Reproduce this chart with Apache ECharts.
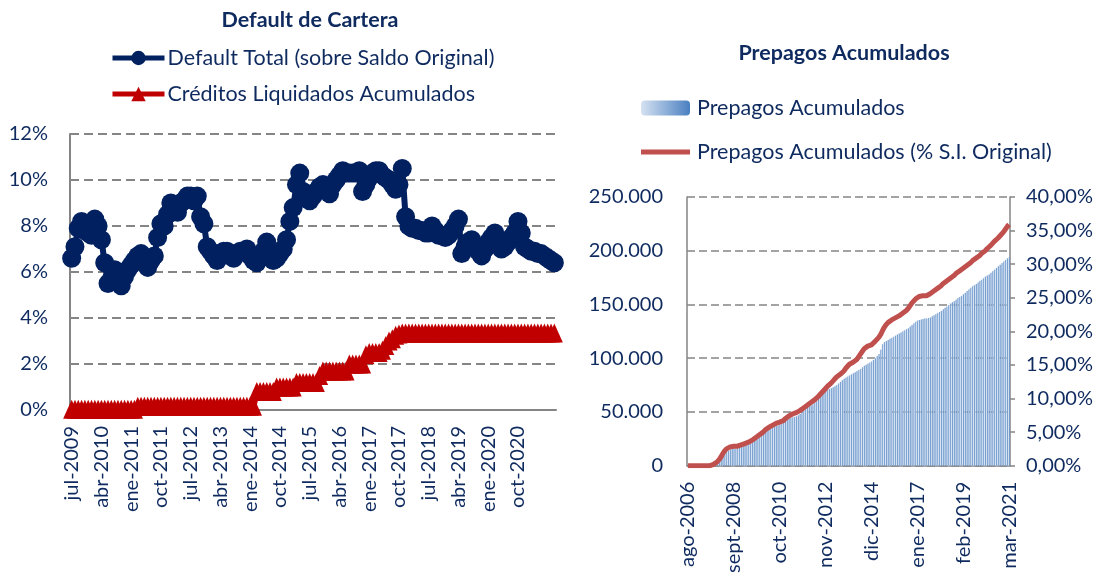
<!DOCTYPE html>
<html lang="es">
<head>
<meta charset="utf-8">
<title>Default de Cartera / Prepagos Acumulados</title>
<script src="https://cdn.jsdelivr.net/npm/echarts@6/dist/echarts.min.js"></script>
<style>
  html, body { margin: 0; padding: 0; background: #fff; }
  #chart { width: 1104px; height: 576px; }
</style>
</head>
<body>
<div id="chart"></div>
<script>
// meses en castellano, como en el eje original
const MESES = ['ene', 'feb', 'mar', 'abr', 'may', 'jun', 'jul', 'ago', 'sept', 'oct', 'nov', 'dic']

function mesesDesde(anio, mes, n) {
  const out = []
  for (let i = 0; i < n; i++) {
    const m = (mes + i) % 12
    const a = anio + Math.floor((mes + i) / 12)
    out.push(MESES[m] + '-' + a)
  }
  return out
}

// Default de Cartera: jul-2009 en adelante, mensual (%)
const fechasDefault = mesesDesde(2009, 6, 147)

const defaultTotal = [
  6.6, 7.1, 7.9, 8.2, 7.8, 7.7, 7.6, 8.3, 8.0, 7.4,
  6.4, 5.5, 5.7, 6.1, 5.7, 5.4, 5.8, 6.1, 6.3, 6.5,
  6.7, 6.8, 6.4, 6.2, 6.5, 6.7, 7.5, 8.1, 8.0, 8.5,
  9.0, 8.8, 8.6, 9.0, 9.1, 9.3, 9.3, 9.1, 9.3, 8.4,
  8.1, 7.1, 6.9, 6.7, 6.5, 6.8, 6.9, 6.9, 6.7, 6.6,
  6.8, 6.9, 6.9, 7.0, 6.7, 6.5, 6.4, 6.6, 6.9, 7.3,
  6.7, 6.5, 6.6, 6.8, 7.0, 7.4, 8.2, 8.8, 9.8, 10.3,
  9.5, 9.2, 9.1, 9.3, 9.5, 9.7, 9.8, 9.6, 9.4, 9.8,
  10.0, 10.2, 10.4, 10.3, 10.3, 10.3, 10.3, 10.4, 9.5, 9.8,
  10.1, 10.3, 10.4, 10.4, 10.2, 10.1, 10.0, 9.8, 9.6, 9.8,
  10.5, 8.4, 8.0, 7.9, 7.9, 7.8, 7.8, 7.7, 7.7, 8.0,
  7.8, 7.6, 7.6, 7.5, 7.6, 7.8, 8.0, 8.3, 6.8, 7.1,
  7.3, 7.4, 7.1, 6.9, 6.7, 7.0, 7.3, 7.5, 7.7, 7.3,
  7.0, 7.1, 7.3, 7.5, 7.7, 8.2, 7.7, 7.1, 7.0, 6.9,
  6.9, 6.8, 6.8, 6.7, 6.6, 6.5, 6.4
]

const creditosLiquidados = [
  0.03, 0.03, 0.03, 0.03, 0.03, 0.03, 0.03, 0.03, 0.03, 0.03,
  0.03, 0.03, 0.03, 0.03, 0.03, 0.03, 0.03, 0.03, 0.03, 0.03,
  0.16, 0.16, 0.16, 0.16, 0.16, 0.16, 0.16, 0.16, 0.16, 0.16,
  0.16, 0.16, 0.16, 0.16, 0.16, 0.16, 0.16, 0.16, 0.16, 0.16,
  0.16, 0.16, 0.16, 0.16, 0.16, 0.16, 0.16, 0.16, 0.16, 0.16,
  0.16, 0.16, 0.16, 0.16, 0.16, 0.16, 0.8, 0.8, 0.8, 0.8,
  0.8, 0.8, 1.0, 1.0, 1.0, 1.0, 1.0, 1.0, 1.2, 1.2,
  1.2, 1.2, 1.2, 1.2, 1.2, 1.5, 1.7, 1.7, 1.7, 1.7,
  1.7, 1.7, 1.7, 1.7, 2.0, 2.0, 2.0, 2.0, 2.0, 2.4,
  2.5, 2.5, 2.5, 2.5, 2.6, 2.8, 3.0, 3.1, 3.25, 3.3,
  3.35, 3.35, 3.35, 3.35, 3.35, 3.35, 3.35, 3.35, 3.35, 3.35,
  3.35, 3.35, 3.35, 3.35, 3.35, 3.35, 3.35, 3.35, 3.35, 3.35,
  3.35, 3.35, 3.35, 3.35, 3.35, 3.35, 3.35, 3.35, 3.35, 3.35,
  3.35, 3.35, 3.35, 3.35, 3.35, 3.35, 3.35, 3.35, 3.35, 3.35,
  3.35, 3.35, 3.35, 3.35, 3.35, 3.35, 3.35
]

// Prepagos: ago-2006 a mar-2021, mensual
const fechasPrepagos = mesesDesde(2006, 7, 176)

// en miles
const prepagosMiles = [
  0, 0, 0, 0, 0, 0, 0, 0, 0, 0, 0, 0, 0, 0,
  1, 2, 3, 5, 7, 9, 11, 13, 14, 15,
  15.5, 16, 16, 16.5, 17, 17.5, 18, 18.5, 19, 20,
  21, 22.5, 24, 25.5, 27, 28, 29, 30.5, 32, 33,
  34, 35, 36, 36.5, 37, 37.5, 38, 39, 40, 42,
  43, 44, 44.5, 45, 45.5, 46, 47, 48, 49.5, 51,
  52.5, 54, 55, 56, 57, 58.5, 60, 62, 64, 66,
  68, 69.5, 70.5, 71.5, 72, 73, 74, 75, 76.5, 78,
  79.5, 81, 82, 83, 84, 85, 86, 87, 88, 89,
  90, 91.5, 93, 94, 95, 96, 97, 98.5, 100, 102,
  104, 108, 113, 115, 116, 117, 118, 119, 120, 121,
  122, 123, 124, 125, 126, 127, 128, 129.5, 131, 132.5,
  134, 135, 135.5, 136, 136.5, 137, 137, 137.5, 138, 139,
  140, 141, 142, 143, 144, 145.5, 147, 148, 149.5, 151,
  152, 153, 154.5, 156, 157, 158, 159.5, 161, 162.5, 164,
  165.5, 167, 168, 169, 170.5, 172, 173, 174.5, 176, 177,
  178, 179.5, 181, 182.5, 184, 185.5, 187, 188.5, 190, 191.5,
  193, 194
]

// % sobre saldo inicial original
const prepagosPct = [
  0, 0, 0, 0, 0, 0, 0, 0, 0, 0, 0, 0, 0, 0,
  0.2, 0.4, 0.6, 0.9, 1.3, 1.8, 2.2, 2.5, 2.7, 2.8,
  2.9, 2.9, 2.9, 2.9, 3.0, 3.1, 3.2, 3.3, 3.4, 3.5,
  3.6, 3.8, 4.0, 4.2, 4.4, 4.6, 4.8, 5.0, 5.3, 5.5,
  5.7, 5.9, 6.0, 6.2, 6.3, 6.4, 6.5, 6.6, 6.7, 7.0,
  7.2, 7.4, 7.6, 7.7, 7.8, 7.9, 8.0, 8.2, 8.4, 8.6,
  8.8, 9.0, 9.2, 9.4, 9.6, 9.8, 10.0, 10.3, 10.6, 10.9,
  11.2, 11.5, 11.8, 12.0, 12.3, 12.6, 12.9, 13.2, 13.4, 13.6,
  13.8, 14.1, 14.5, 14.8, 15.1, 15.3, 15.4, 15.5, 15.8, 16.2,
  16.6, 17.0, 17.4, 17.6, 17.8, 17.9, 18.0, 18.2, 18.5, 18.8,
  19.1, 19.5, 20.1, 20.6, 21.0, 21.3, 21.5, 21.7, 21.9, 22.0,
  22.1, 22.3, 22.5, 22.7, 22.9, 23.1, 23.4, 23.8, 24.2, 24.5,
  24.8, 25.0, 25.2, 25.3, 25.3, 25.3, 25.3, 25.4, 25.6, 25.8,
  26.0, 26.2, 26.4, 26.6, 26.8, 27.1, 27.3, 27.5, 27.7, 27.9,
  28.1, 28.3, 28.6, 28.8, 29.0, 29.2, 29.4, 29.6, 29.8, 30.0,
  30.2, 30.5, 30.7, 30.9, 31.1, 31.3, 31.6, 31.8, 32.0, 32.3,
  32.5, 32.8, 33.1, 33.4, 33.6, 33.9, 34.2, 34.5, 34.8, 35.2,
  35.6, 35.9
]

const NAVY = '#0e2a5f'
const GRAY = '#858585'
const FONT = 'Lato, "Open Sans", sans-serif'

const chart = echarts.init(document.getElementById('chart'))

const labelStyle = {
  color: NAVY,
  fontFamily: FONT,
  fontSize: 20
}

const legendText = {
  color: NAVY,
  fontFamily: FONT,
  fontSize: 21.5
}

const barFill = new echarts.graphic.LinearGradient(0, 0, 1, 0, [
  { offset: 0, color: '#d5e2f1' },
  { offset: 1, color: '#4a7fc1' }
])

chart.setOption({
  animation: false,
  textStyle: { fontFamily: FONT },
  title: [
    {
      text: 'Default de Cartera',
      left: 310,
      top: 9,
      padding: 0,
      textAlign: 'center',
      textStyle: { color: NAVY, fontFamily: FONT, fontSize: 21.5, fontWeight: 'bold' }
    },
    {
      text: 'Prepagos Acumulados',
      left: 844,
      top: 42,
      padding: 0,
      textAlign: 'center',
      textStyle: { color: NAVY, fontFamily: FONT, fontSize: 21.5, fontWeight: 'bold' }
    }
  ],
  legend: [
    {
      orient: 'vertical',
      left: 110,
      top: 47,
      padding: 0,
      itemWidth: 52,
      itemHeight: 18,
      itemGap: 14,
      lineStyle: { width: 5 },
      data: ['Default Total (sobre Saldo Original)', 'Créditos Liquidados Acumulados'],
      textStyle: { ...legendText, padding: [0, 0, 0, -2] }
    },
    {
      orient: 'vertical',
      left: 641,
      top: 97,
      padding: 0,
      itemWidth: 49,
      itemHeight: 15,
      itemGap: 22,
      data: [
        'Prepagos Acumulados',
        { name: 'Prepagos Acumulados (% S.I. Original)', icon: 'path://M0,0 L49,0 L49,5 L0,5 Z' }
      ],
      textStyle: { ...legendText, padding: [0, 0, 0, 2] }
    }
  ],
  grid: [
    { left: 70, top: 134, width: 486, height: 276 },
    { left: 687, top: 197, width: 323, height: 270 }
  ],
  xAxis: [
    {
      type: 'category',
      gridIndex: 0,
      data: fechasDefault,
      boundaryGap: true,
      axisLine: { lineStyle: { color: GRAY, width: 2 } },
      axisTick: { show: false },
      axisLabel: {
        ...labelStyle,
        rotate: 90,
        margin: 16,
        interval: (i) => i % 9 === 0 && i <= 135
      }
    },
    {
      type: 'category',
      gridIndex: 1,
      data: fechasPrepagos,
      boundaryGap: true,
      axisLine: { lineStyle: { color: GRAY, width: 1.5 } },
      axisTick: { show: false },
      axisLabel: {
        ...labelStyle,
        rotate: 90,
        margin: 16,
        interval: 24
      }
    }
  ],
  yAxis: [
    {
      type: 'value',
      gridIndex: 0,
      min: 0,
      max: 12,
      interval: 2,
      axisLine: { show: true, lineStyle: { color: GRAY, width: 2 } },
      axisTick: { show: false },
      axisLabel: { ...labelStyle, margin: 22, formatter: '{value}%' },
      splitLine: { lineStyle: { color: GRAY, width: 2, type: [9, 5] } }
    },
    {
      type: 'value',
      gridIndex: 1,
      min: 0,
      max: 250,
      interval: 50,
      axisLine: { show: true, lineStyle: { color: GRAY, width: 1.5 } },
      axisTick: { show: false },
      axisLabel: {
        ...labelStyle,
        margin: 24,
        formatter: (v) => (v === 0 ? '0' : v + '.000')
      },
      splitLine: { lineStyle: { color: GRAY, width: 1.5, type: [8, 4] } }
    },
    {
      type: 'value',
      gridIndex: 1,
      position: 'right',
      min: 0,
      max: 40,
      interval: 5,
      axisLine: { show: true, lineStyle: { color: GRAY, width: 1.5 } },
      axisTick: { show: true, length: 5, lineStyle: { color: GRAY, width: 1.5 } },
      axisLabel: {
        ...labelStyle,
        margin: 16,
        formatter: (v) => v.toFixed(2).replace('.', ',') + '%'
      },
      splitLine: { show: false }
    }
  ],
  series: [
    {
      name: 'Default Total (sobre Saldo Original)',
      type: 'line',
      xAxisIndex: 0,
      yAxisIndex: 0,
      data: defaultTotal,
      symbol: 'circle',
      symbolSize: 19,
      showAllSymbol: true,
      color: '#002060',
      lineStyle: { color: '#002060', width: 6 },
      itemStyle: { color: '#002060' }
    },
    {
      name: 'Créditos Liquidados Acumulados',
      type: 'line',
      xAxisIndex: 0,
      yAxisIndex: 0,
      data: creditosLiquidados,
      symbol: 'triangle',
      symbolSize: [17, 19],
      showAllSymbol: true,
      color: '#c00000',
      lineStyle: { color: '#c00000', width: 6 },
      itemStyle: { color: '#c00000' }
    },
    {
      name: 'Prepagos Acumulados',
      type: 'bar',
      xAxisIndex: 1,
      yAxisIndex: 1,
      data: prepagosMiles,
      barCategoryGap: '15%',
      itemStyle: { color: barFill }
    },
    {
      name: 'Prepagos Acumulados (% S.I. Original)',
      type: 'line',
      xAxisIndex: 1,
      yAxisIndex: 2,
      data: prepagosPct,
      symbol: 'none',
      color: '#c0504d',
      lineStyle: { color: '#c0504d', width: 5 }
    }
  ]
})
</script>
</body>
</html>
